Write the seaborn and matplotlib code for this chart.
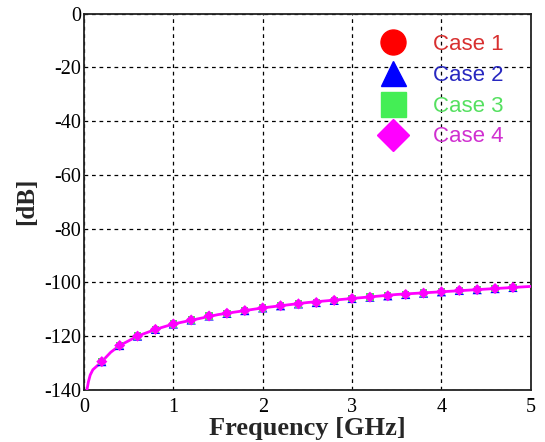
"""Transmission level vs frequency for four cases."""

import matplotlib
matplotlib.use("Agg")
import matplotlib.pyplot as plt
import numpy as np
import pandas as pd
import seaborn as sns
from matplotlib.lines import Line2D

# ---------- Data ---------- #

# Continuous curve
line_freq = [0.034, 0.05, 0.07, 0.1, 0.15, 0.2, 0.3, 0.4, 0.6, 0.8, 1.0,
             1.5, 2.0, 2.5, 3.0, 3.5, 4.0, 4.5, 5.0]
line_db = [-140, -137, -134.5, -132.5, -131, -129.5, -126, -123.5, -120,
           -117.5, -115.5, -112, -109.5, -107.5, -106, -104.5, -103.5,
           -102.5, -101.5]

# Marker samples (same for all four cases)
marker_freq = [0.2, 0.4, 0.6, 0.8, 1.0, 1.2, 1.4, 1.6, 1.8, 2.0, 2.2, 2.4,
               2.6, 2.8, 3.0, 3.2, 3.4, 3.6, 3.8, 4.0, 4.2, 4.4, 4.6, 4.8]
marker_db = [-129.5, -123.5, -120, -117.5, -115.5, -114, -112.5, -111.5,
             -110.5, -109.5, -108.7, -108, -107.5, -106.7, -106, -105.5,
             -105, -104.5, -104, -103.5, -103, -102.7, -102.3, -101.9]

cases = ["Case 1", "Case 2", "Case 3", "Case 4"]
case_colors = {"Case 1": "#ff0000", "Case 2": "#0000ff",
               "Case 3": "#44ee55", "Case 4": "#ff00ff"}
text_colors = {"Case 1": "#d83030", "Case 2": "#2828c0",
               "Case 3": "#55e060", "Case 4": "#d030d0"}
case_markers = {"Case 1": "o", "Case 2": "^", "Case 3": "s", "Case 4": "D"}
case_sizes = {"Case 1": 30, "Case 2": 44, "Case 3": 28, "Case 4": 32}

x_ticks = [0, 1, 2, 3, 4, 5]
y_ticks = [0, -20, -40, -60, -80, -100, -120, -140]

# ---------- Build tables ---------- #

line_df = pd.DataFrame({"freq": line_freq, "db": line_db})
marker_df = pd.concat(
    [pd.DataFrame({"freq": marker_freq, "db": marker_db, "case": c}) for c in cases],
    ignore_index=True,
)

# ---------- Plot ---------- #

sns.set_style("white")
plt.rcParams["font.family"] = ["Liberation Serif", "DejaVu Serif"]
plt.rcParams["axes.unicode_minus"] = False

fig = plt.figure(figsize=(5.45, 4.42), dpi=100)
ax = fig.add_axes([0.154, 0.118, 0.82, 0.851])

sns.lineplot(data=line_df, x="freq", y="db", color="#ff00ff", lw=2.0,
             ax=ax, zorder=3)
sns.scatterplot(data=marker_df, x="freq", y="db", hue="case", style="case",
                size="case", sizes=case_sizes,
                palette=case_colors, markers=case_markers,
                edgecolor="none", legend=False, ax=ax, zorder=4)

ax.set_xlim(0, 5)
ax.set_ylim(-140, 0)
ax.set_xticks(x_ticks)
ax.set_yticks(y_ticks)
ax.tick_params(direction="in", length=3, labelsize=14.5, colors="black",
               width=1, pad=2)
ax.tick_params(axis="x", pad=6)
ax.grid(True, color="black", linestyle=(0, (3, 3)), linewidth=0.9)
for spine in ax.spines.values():
    spine.set_color("#222222")
    spine.set_linewidth(1.3)

ax.set_xlabel("Frequency [GHz]", fontsize=19, fontweight="bold", labelpad=0)
ax.set_ylabel("[dB]", fontsize=18, fontweight="bold", labelpad=4)

# Legend with big markers and coloured text
handles = [
    Line2D([], [], linestyle="none", marker=case_markers[c],
           color=case_colors[c], markersize=18 if c != "Case 4" else 16)
    for c in cases
]
leg = ax.legend(handles, cases, loc="upper right", frameon=False,
                bbox_to_anchor=(0.974, 0.987), handletextpad=0.8,
                labelspacing=0.44, borderpad=0.2,
                prop={"family": "Liberation Sans", "size": 16})
for text, c in zip(leg.get_texts(), cases):
    text.set_color(text_colors[c])

fig.savefig("out.png", dpi=100)
plt.close(fig)
